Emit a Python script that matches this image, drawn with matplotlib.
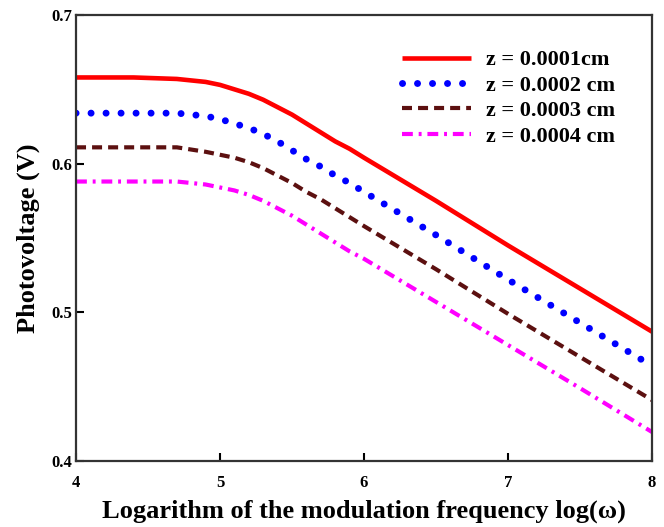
import matplotlib
matplotlib.use("Agg")
import matplotlib.pyplot as plt

plt.rcParams['font.family'] = ['Liberation Serif', 'DejaVu Serif']
plt.rcParams['font.weight'] = 'bold'

log_w = [4.0, 4.4, 4.7, 4.9, 5.0, 5.1, 5.2, 5.3, 5.4, 5.5, 5.6, 5.7, 5.8, 5.9, 6.0, 6.5, 7.0, 7.5, 8.0]
v_z1 = [0.658, 0.658, 0.657, 0.655, 0.653, 0.650, 0.647, 0.643, 0.638, 0.633, 0.627, 0.621, 0.615, 0.610, 0.604, 0.575, 0.545, 0.516, 0.487]
v_z2 = [0.634, 0.634, 0.634, 0.632, 0.630, 0.627, 0.624, 0.620, 0.615, 0.609, 0.603, 0.598, 0.592, 0.587, 0.581, 0.552, 0.522, 0.493, 0.464]
v_z3 = [0.611, 0.611, 0.611, 0.608, 0.606, 0.604, 0.601, 0.597, 0.592, 0.587, 0.581, 0.576, 0.570, 0.564, 0.558, 0.529, 0.499, 0.470, 0.441]
v_z4 = [0.588, 0.588, 0.588, 0.586, 0.584, 0.582, 0.579, 0.575, 0.570, 0.565, 0.559, 0.553, 0.547, 0.541, 0.536, 0.507, 0.478, 0.449, 0.4195]
labels = ["z = 0.0001cm", "z = 0.0002 cm", "z = 0.0003 cm", "z = 0.0004 cm"]
x_ticks = [4, 5, 6, 7, 8]
y_ticks = [0.4, 0.5, 0.6, 0.7]

fig = plt.figure(figsize=(6.64, 5.27), dpi=100)
ax = fig.add_axes([0.1145, 0.1252, 0.8675, 0.8463])

ax.plot(log_w, v_z1, color='#ff0000', lw=3.3, solid_capstyle='butt', label=labels[0])
ax.plot(log_w, v_z2, color='#0000ff', lw=5.0, linestyle=(0, (0.01, 2.15)),
        dash_capstyle='round', label=labels[1])
ax.plot(log_w, v_z3, color='#5c1010', lw=3.0, linestyle=(0, (2.4, 1.45)), label=labels[2])
ax.plot(log_w, v_z4, color='#ff00ff', lw=3.0, linestyle=(0, (2.6, 1.4, 0.7, 1.4)), label=labels[3])

ax.set_xlim(4, 8)
ax.set_ylim(0.4, 0.7)
ax.set_xticks(x_ticks)
ax.set_xticklabels([str(t) for t in x_ticks])
ax.set_yticks(y_ticks)
ax.set_yticklabels([f"{t:.1f}" for t in y_ticks])
ax.tick_params(direction='in', length=6, width=1.5, labelsize=12, colors='black')
ax.tick_params(axis='x', pad=10)
ax.tick_params(axis='y', pad=3)
for lbl in ax.get_xticklabels() + ax.get_yticklabels():
    lbl.set_fontweight('bold')
for sp in ax.spines.values():
    sp.set_linewidth(1.6)
    sp.set_color('#333333')

ax.set_xlabel("Logarithm of the modulation frequency log(ω)", fontsize=19,
              fontweight='bold', labelpad=6)
ax.set_ylabel("Photovoltage (V)", fontsize=19, fontweight='bold', labelpad=8)

leg = ax.legend(loc='upper left', bbox_to_anchor=(0.566, 0.922), frameon=False,
                prop={'weight': 'bold', 'size': 16}, handlelength=3.1,
                labelspacing=0.22, handletextpad=0.7, borderpad=0, borderaxespad=0)

fig.savefig("out.png", dpi=100)
